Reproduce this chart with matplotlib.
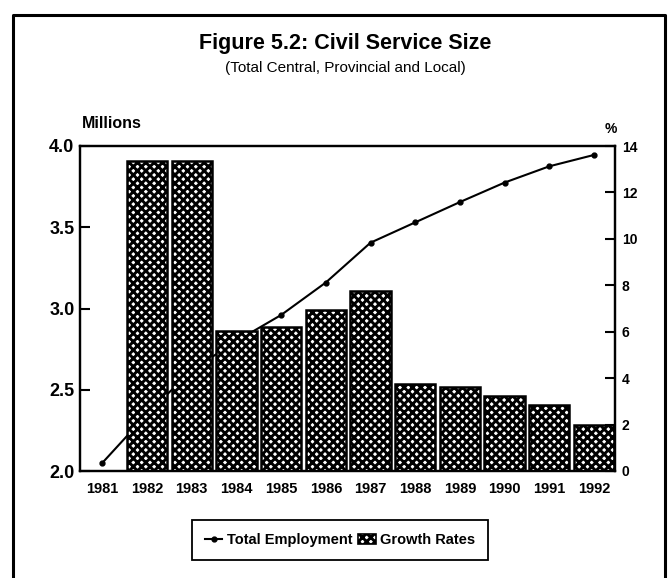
import numpy as np
import matplotlib.pyplot as plt
from matplotlib.lines import Line2D
from matplotlib.patches import Patch

# Civil service size, total central, provincial and local
years = ['1981', '1982', '1983', '1984', '1985', '1986',
         '1987', '1988', '1989', '1990', '1991', '1992']
employment = [2.05, 2.35, 2.62, 2.80, 2.96, 3.16,
              3.405, 3.53, 3.655, 3.775, 3.875, 3.945]   # millions
growth = [np.nan, 13.36, 13.36, 6.02, 6.19, 6.93,
          7.76, 3.75, 3.62, 3.24, 2.83, 1.98]            # percent

left_ticks = [2.0, 2.5, 3.0, 3.5, 4.0]
right_ticks = [0, 2, 4, 6, 8, 10, 12, 14]

plt.rcParams['font.family'] = ['Liberation Sans Narrow', 'Liberation Sans', 'DejaVu Sans']
plt.rcParams['font.weight'] = 'bold'
plt.rcParams['hatch.linewidth'] = 2.1

W, H = 668, 578
fig = plt.figure(figsize=(W / 100, H / 100), dpi=100)

def fx(px):
    return px / W

def fy(py):
    return 1 - py / H

ax = fig.add_axes([fx(80), fy(471), fx(615) - fx(80), fy(146) - fy(471)])
ax2 = ax.twinx()

x = np.arange(len(years))

# line underneath, bars on the twin axis so they cover it
ax.plot(x, employment, color='black', lw=1.5, marker='o', ms=3.5, zorder=2)
ax2.bar(x, growth, width=0.9, facecolor='white', edgecolor='black',
        hatch='xxxx', linewidth=1.8)

ax.set_xlim(-0.5, 11.47)
ax.set_ylim(2.0, 4.0)
ax2.set_ylim(0, 14)

ax.set_yticks(left_ticks)
ax.set_yticklabels([f'{v:.1f}' for v in left_ticks], fontsize=13, fontweight='bold')
ax2.set_yticks(right_ticks)
ax2.set_yticklabels([str(v) for v in right_ticks], fontsize=10, fontweight='bold')
ax.set_xticks(x)
ax.set_xticklabels(years, fontsize=10.5, fontweight='bold')

ax.tick_params(axis='y', direction='in', length=7, width=1.5, pad=4, right=False)
ax2.tick_params(axis='y', direction='in', length=7, width=1.5, pad=5)
ax.tick_params(axis='x', length=0, pad=8)

for a in (ax, ax2):
    for s in a.spines.values():
        s.set_linewidth(1.6)

fig.text(fx(345), fy(44), 'Figure 5.2: Civil Service Size', ha='center', va='center',
         fontsize=15.5, fontweight='heavy')
fig.text(fx(345), fy(68), '(Total Central, Provincial and Local)', ha='center', va='center',
         fontsize=11, fontweight='normal')
fig.text(fx(82), fy(124), 'Millions', ha='left', va='center', fontsize=11.5, fontweight='bold')
fig.text(fx(611), fy(129), '%', ha='center', va='center', fontsize=10, fontweight='bold')

handles = [Line2D([0], [0], color='black', lw=1.5, marker='o', ms=3.5),
           Patch(facecolor='white', edgecolor='black', hatch='xxxx', linewidth=1.2)]
leg = fig.legend(handles, ['Total Employment', 'Growth Rates'], ncol=2,
                 loc='center', bbox_to_anchor=(fx(340), fy(540)),
                 fancybox=False, edgecolor='black', framealpha=1,
                 handlelength=1.2, handletextpad=0.3, columnspacing=0.4,
                 borderpad=0.9, prop={'size': 10.5, 'weight': 'bold'})
leg.get_frame().set_linewidth(1.3)

# page border (open at the bottom)
fig.add_artist(Line2D([fx(13), fx(13), fx(665), fx(665)],
                      [0, fy(15), fy(15), 0], color='black', lw=2.2,
                      transform=fig.transFigure))

fig.savefig('out.png', dpi=100)
